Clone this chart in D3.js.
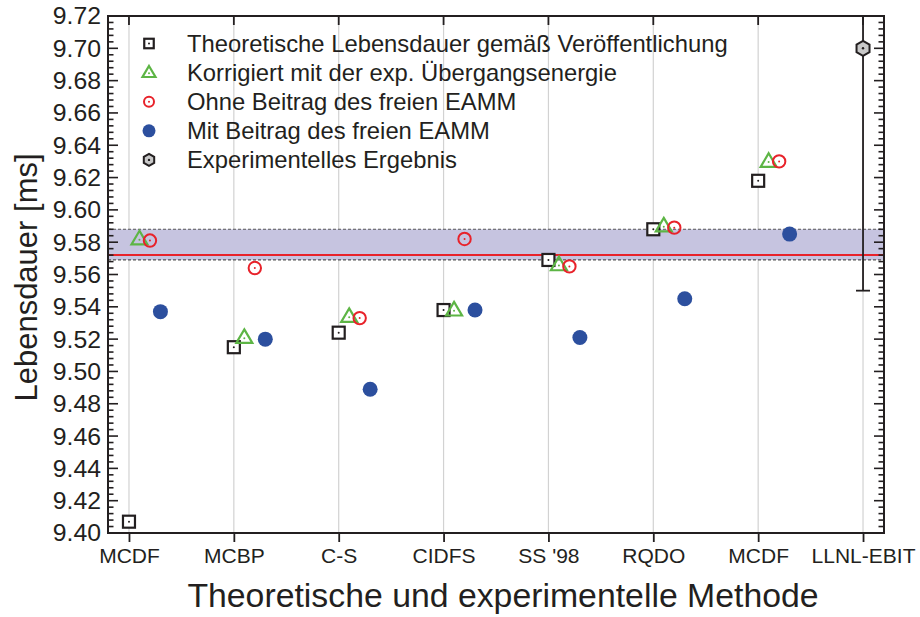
<!DOCTYPE html>
<html>
<head>
<meta charset="utf-8">
<script src="https://cdn.jsdelivr.net/npm/d3@7"></script>
<style>
  html, body { margin: 0; padding: 0; background: #fff; }
  svg { display: block; font-family: "Liberation Sans", Arial, Helvetica, sans-serif; }
</style>
</head>
<body>
<svg id="chart" width="920" height="617"></svg>
<script>
// Methods on the x axis (theory first, experiment last)
const categories = ["MCDF", "MCBP", "C-S", "CIDFS", "SS '98", "RQDO", "MCDF", "LLNL-EBIT"];

// Lifetimes in ms, one value per theoretical method
const published   = [9.407, 9.515, 9.524, 9.538, 9.569, 9.588, 9.618];
const corrected   = [9.582, 9.521, 9.534, 9.538, 9.566, 9.590, 9.630];
const withoutEAMM = [9.581, 9.564, 9.533, 9.582, 9.565, 9.589, 9.630];
const withEAMM    = [9.537, 9.520, 9.489, 9.538, 9.521, 9.545, 9.585];

// Experimental result with its uncertainty
const experiment = [{ index: 7, value: 9.70, error: 0.15 }];

// Band of the averaged theory values
const bandLow = 9.569, bandHigh = 9.588, bandMean = 9.572;

// Axis ticks
const yTicks = [9.40, 9.42, 9.44, 9.46, 9.48, 9.50, 9.52, 9.54, 9.56, 9.58, 9.60, 9.62, 9.64, 9.66, 9.68, 9.70, 9.72];

const legendLabels = [
  "Theoretische Lebensdauer gemäß Veröffentlichung",
  "Korrigiert mit der exp. Übergangsenergie",
  "Ohne Beitrag des freien EAMM",
  "Mit Beitrag des freien EAMM",
  "Experimentelles Ergebnis"
];

const ink = "#231f20";
const green = "#5db545";
const red = "#e8222a";
const blue = "#2c4f9e";

const margin = { left: 108, right: 884, top: 16, bottom: 533 };
const svg = d3.select("#chart");

const x = d3.scaleLinear().domain([-0.2, 7.2]).range([margin.left, margin.right]);
const y = d3.scaleLinear().domain([9.40, 9.72]).range([margin.bottom, margin.top]);
const catIdx = d3.range(categories.length);

svg.append("defs").append("clipPath").attr("id", "plotClip")
  .append("rect")
  .attr("x", margin.left).attr("y", margin.top)
  .attr("width", margin.right - margin.left).attr("height", margin.bottom - margin.top);

// Vertical grid lines at each method
svg.append("g").selectAll("line").data(catIdx).join("line")
  .attr("x1", d => x(d)).attr("x2", d => x(d))
  .attr("y1", margin.top).attr("y2", margin.bottom)
  .attr("stroke", "#d2d2d2").attr("stroke-width", 1.2);

// Band with dashed limits and mean line
const band = svg.append("g").attr("clip-path", "url(#plotClip)");
band.append("rect")
  .attr("x", margin.left).attr("width", margin.right - margin.left)
  .attr("y", y(bandHigh)).attr("height", y(bandLow) - y(bandHigh))
  .attr("fill", "#c6c4e0");
[bandLow, bandHigh].forEach(v => {
  band.append("line")
    .attr("x1", margin.left).attr("x2", margin.right)
    .attr("y1", y(v)).attr("y2", y(v))
    .attr("stroke", "#555").attr("stroke-width", 1.2).attr("stroke-dasharray", "3,2");
});
band.append("line")
  .attr("x1", margin.left).attr("x2", margin.right)
  .attr("y1", y(bandMean)).attr("y2", y(bandMean))
  .attr("stroke", red).attr("stroke-width", 2);

// Axes
const minorTicks = d3.range(0, 81).map(k => 9.40 + k * 0.004).filter(v => v <= 9.7201);
const fmt = d3.format(".2f");

const yLeft = d3.axisLeft(y).tickValues(yTicks).tickFormat(fmt).tickSize(0).tickPadding(7);
const gL = svg.append("g").attr("transform", `translate(${margin.left},0)`).call(yLeft);
gL.select(".domain").remove();
gL.selectAll("text").attr("font-size", 24.8).attr("fill", ink);

const gL2 = svg.append("g");
minorTicks.forEach(v => {
  const major = yTicks.some(t => Math.abs(t - v) < 1e-6);
  const len = major ? 10 : 5.5;
  gL2.append("line").attr("x1", margin.left).attr("x2", margin.left + len)
    .attr("y1", y(v)).attr("y2", y(v)).attr("stroke", ink).attr("stroke-width", 1.6);
  gL2.append("line").attr("x1", margin.right).attr("x2", margin.right - len)
    .attr("y1", y(v)).attr("y2", y(v)).attr("stroke", ink).attr("stroke-width", 1.6);
});

const xBottom = d3.axisBottom(x).tickValues(catIdx).tickFormat(i => categories[i]).tickSize(9).tickPadding(6);
const gB = svg.append("g").attr("transform", `translate(0,${margin.bottom})`).call(xBottom);
gB.select(".domain").remove();
gB.selectAll(".tick line").attr("stroke", ink).attr("stroke-width", 1.8);
gB.selectAll("text").attr("font-size", 21).attr("fill", ink);

const gT = svg.append("g");
catIdx.forEach(i => {
  gT.append("line").attr("x1", x(i)).attr("x2", x(i))
    .attr("y1", margin.top).attr("y2", margin.top + 9)
    .attr("stroke", ink).attr("stroke-width", 1.8);
});

// Frame
svg.append("rect")
  .attr("x", margin.left).attr("y", margin.top)
  .attr("width", margin.right - margin.left).attr("height", margin.bottom - margin.top)
  .attr("fill", "none").attr("stroke", ink).attr("stroke-width", 2);

// Axis titles
svg.append("text")
  .attr("x", 503).attr("y", 607)
  .attr("text-anchor", "middle").attr("font-size", 33.8).attr("fill", ink)
  .text("Theoretische und experimentelle Methode");
svg.append("text")
  .attr("transform", `translate(37,${(margin.top + margin.bottom) / 2 + 3}) rotate(-90)`)
  .attr("text-anchor", "middle").attr("font-size", 31).attr("fill", ink)
  .text("Lebensdauer [ms]");

// Marker painters
function squareMarker(g, cx, cy, s) {
  g.append("rect").attr("x", cx - s / 2).attr("y", cy - s / 2).attr("width", s).attr("height", s)
    .attr("fill", "#fff").attr("stroke", ink).attr("stroke-width", 2.2);
  g.append("circle").attr("cx", cx).attr("cy", cy).attr("r", 1).attr("fill", ink);
}
function triangleMarker(g, cx, cy, s) {
  const h = s * 0.85;
  g.append("path")
    .attr("d", `M${cx},${cy - h * 0.6}L${cx + s / 2},${cy + h * 0.4}L${cx - s / 2},${cy + h * 0.4}Z`)
    .attr("fill", "none").attr("stroke", green).attr("stroke-width", 2.2).attr("stroke-linejoin", "miter");
  g.append("circle").attr("cx", cx).attr("cy", cy + h * 0.05).attr("r", 1).attr("fill", green);
}
function ringMarker(g, cx, cy, r) {
  g.append("circle").attr("cx", cx).attr("cy", cy).attr("r", r)
    .attr("fill", "none").attr("stroke", red).attr("stroke-width", 2);
  g.append("circle").attr("cx", cx).attr("cy", cy).attr("r", 1).attr("fill", red);
}
function dotMarker(g, cx, cy, r) {
  g.append("circle").attr("cx", cx).attr("cy", cy).attr("r", r).attr("fill", blue);
}
function hexMarker(g, cx, cy, r) {
  const pts = d3.range(6).map(k => {
    const a = -Math.PI / 2 + k * Math.PI / 3;
    return [cx + r * Math.cos(a), cy + r * Math.sin(a)];
  });
  g.append("path").attr("d", "M" + pts.map(p => p.join(",")).join("L") + "Z")
    .attr("fill", "#c9c9c9").attr("stroke", ink).attr("stroke-width", 2);
  g.append("circle").attr("cx", cx).attr("cy", cy).attr("r", 1.2).attr("fill", ink);
}

// Data points, each series shifted slightly to the right of its method
const pts = svg.append("g");
published.forEach((v, i) => squareMarker(pts, x(i), y(v), 12));
corrected.forEach((v, i) => triangleMarker(pts, x(i + 0.1), y(v), 16));
withoutEAMM.forEach((v, i) => ringMarker(pts, x(i + 0.2), y(v), 6.2));
withEAMM.forEach((v, i) => dotMarker(pts, x(i + 0.3), y(v), 7.5));

// Experimental value with error bar
const exp = svg.append("g");
experiment.forEach(d => {
  exp.append("line").attr("clip-path", "url(#plotClip)")
    .attr("x1", x(d.index)).attr("x2", x(d.index))
    .attr("y1", y(d.value + d.error)).attr("y2", y(d.value - d.error))
    .attr("stroke", ink).attr("stroke-width", 1.8);
  exp.append("line")
    .attr("x1", x(d.index) - 7).attr("x2", x(d.index) + 7)
    .attr("y1", y(d.value - d.error)).attr("y2", y(d.value - d.error))
    .attr("stroke", ink).attr("stroke-width", 1.8);
  hexMarker(exp, x(d.index), y(d.value), 7.5);
});

// Legend
const leg = svg.append("g");
const legX = 149, legY0 = 43.5, legDy = 29.1;
const painters = [
  (cx, cy) => squareMarker(leg, cx, cy, 9.5),
  (cx, cy) => triangleMarker(leg, cx, cy, 13),
  (cx, cy) => ringMarker(leg, cx, cy, 5),
  (cx, cy) => dotMarker(leg, cx, cy, 6.5),
  (cx, cy) => hexMarker(leg, cx, cy, 6)
];
legendLabels.forEach((t, k) => {
  const cy = legY0 + k * legDy;
  painters[k](legX, cy);
  leg.append("text").attr("x", 187).attr("y", cy + 8.5)
    .attr("font-size", 23.8).attr("fill", ink).text(t);
});
</script>
</body>
</html>
